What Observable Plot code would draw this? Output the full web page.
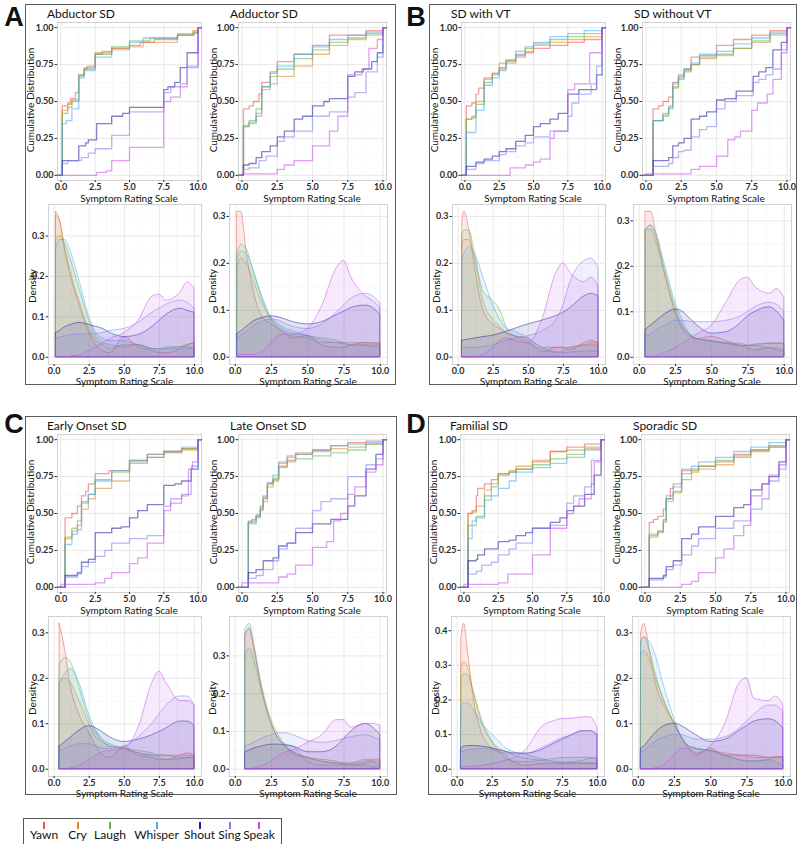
<!DOCTYPE html>
<html>
<head>
<meta charset="utf-8">
<script src="https://cdn.jsdelivr.net/npm/d3@7"></script>
<script src="https://cdn.jsdelivr.net/npm/@observablehq/plot@0.6"></script>
<style>
html,body{margin:0;padding:0;background:#fff;}
#root{position:relative;width:800px;height:844px;overflow:hidden;font-family:Lato,"Open Sans",sans-serif;color:#111;}
.box{position:absolute;border:1.5px solid #5a5a5a;box-sizing:border-box;}
.abs{position:absolute;white-space:nowrap;line-height:1;}
#root svg{position:absolute;}
</style>
</head>
<body>
<div id="root"></div>
<script>
// ---------------- DATA ----------------
const series = ["Yawn","Cry","Laugh","Whisper","Shout","Sing","Speak"];
const colors = ["#e8534f","#d98a26","#5fb54a","#4aa8f0","#1c1c9c","#7d7df0","#c94ee8"];
const panelLetters = ["A","B","C","D"];
const subplotTitles = ["Abductor SD","Adductor SD","SD with VT","SD without VT","Early Onset SD","Late Onset SD","Familial SD","Sporadic SD"];
const xTicks = [0,2.5,5,7.5,10];
const ecdfTicks = [0,0.25,0.5,0.75,1];
const xAxisTitle = "Symptom Rating Scale";
const ecdfTitle = "Cumulative Distribution";
const densTitle = "Density";

// ECDF step points [rating, cumulative fraction], series order Yawn..Speak
const ecdfAbductor = [
  [[0.1,0.47],[0.5,0.49],[0.7,0.52],[1.05,0.56],[1.3,0.68],[1.7,0.72],[1.9,0.74],[2.5,0.82],[3.0,0.84],[3.7,0.86],[5,0.88],[5.8,0.90],[6.8,0.92],[8.5,0.95],[9.7,0.97],[10,1]],
  [[0.1,0.44],[0.5,0.48],[0.8,0.50],[1.3,0.68],[1.7,0.73],[2.5,0.83],[3.7,0.86],[5,0.87],[6,0.90],[8.5,0.95],[9.6,0.98],[10,1]],
  [[0.1,0.42],[0.5,0.46],[0.8,0.51],[1.3,0.67],[1.7,0.72],[2.5,0.82],[3.7,0.87],[5,0.91],[6.5,0.93],[8.5,0.95],[9.7,0.97],[10,1]],
  [[0.1,0.35],[0.4,0.37],[0.8,0.45],[1.3,0.66],[1.7,0.71],[2.5,0.80],[3.7,0.85],[5,0.90],[6,0.93],[8.5,0.96],[10,1]],
  [[0.1,0.10],[1.3,0.20],[1.8,0.22],[2.0,0.24],[2.6,0.35],[3.7,0.40],[4.5,0.42],[5,0.46],[7.5,0.58],[7.8,0.60],[8.3,0.63],[8.7,0.73],[9.2,0.83],[10,1]],
  [[0.1,0.08],[0.5,0.10],[1.5,0.12],[2.0,0.15],[2.5,0.18],[3.7,0.27],[5,0.43],[7.5,0.56],[8.0,0.60],[8.7,0.62],[9.2,0.74],[10,1]],
  [[2.6,0.02],[3.3,0.03],[3.7,0.10],[5,0.19],[7.5,0.50],[8.0,0.53],[8.7,0.60],[9.2,0.73],[10,1]]
];
const ecdfAdductor = [
  [[0.1,0.45],[0.5,0.47],[0.8,0.50],[1.2,0.55],[1.4,0.63],[2,0.70],[2.5,0.77],[3.7,0.82],[5,0.88],[6.2,0.95],[8.8,0.98],[10,1]],
  [[0.1,0.33],[0.5,0.35],[1.0,0.40],[1.4,0.58],[2.0,0.62],[2.5,0.67],[3.7,0.74],[5,0.82],[6.2,0.88],[7.5,0.92],[8.8,0.95],[10,1]],
  [[0.1,0.33],[0.5,0.37],[1.0,0.45],[1.4,0.60],[2.0,0.67],[2.5,0.72],[3.7,0.79],[5,0.85],[6.2,0.90],[7.5,0.93],[8.8,0.96],[10,1]],
  [[0.1,0.34],[0.5,0.36],[1.0,0.42],[1.4,0.60],[2.0,0.69],[2.5,0.74],[3.7,0.82],[5,0.87],[6.2,0.92],[7.5,0.95],[8.8,0.97],[10,1]],
  [[0.1,0.07],[0.5,0.08],[1.0,0.12],[1.4,0.16],[2.0,0.20],[2.5,0.26],[3.0,0.30],[3.7,0.38],[4.3,0.40],[5,0.47],[5.8,0.50],[6.2,0.52],[7.5,0.67],[8.0,0.70],[8.6,0.72],[9.2,0.77],[9.6,0.83],[10,1]],
  [[0.1,0.04],[0.5,0.05],[1.2,0.10],[1.7,0.13],[2.5,0.23],[3.0,0.26],[3.7,0.30],[5,0.40],[6.2,0.43],[7.5,0.53],[8.0,0.56],[8.8,0.70],[9.6,0.80],[10,1]],
  [[0,0.01],[2.5,0.04],[3.0,0.07],[3.7,0.10],[5,0.20],[6.2,0.30],[6.8,0.40],[7.5,0.68],[8.5,0.72],[9.0,0.86],[9.6,0.92],[10,1]]
];
const ecdfWithVT = [
  [[0.1,0.47],[0.5,0.49],[0.8,0.55],[1.0,0.59],[1.4,0.66],[2.0,0.69],[2.5,0.73],[3.0,0.78],[3.7,0.81],[4.4,0.83],[5,0.86],[6.2,0.88],[7.5,0.90],[8.7,0.92],[10,1]],
  [[0.1,0.38],[0.5,0.40],[0.8,0.50],[1.4,0.65],[2.0,0.69],[2.5,0.72],[3.0,0.76],[3.7,0.80],[4.4,0.84],[5,0.88],[6.2,0.90],[7.5,0.92],[8.7,0.94],[10,1]],
  [[0.1,0.38],[0.5,0.39],[0.8,0.48],[1.4,0.63],[2.0,0.68],[2.5,0.76],[3.0,0.78],[3.7,0.84],[4.4,0.86],[5,0.89],[6.2,0.92],[7.5,0.94],[8.7,0.96],[10,1]],
  [[0.1,0.29],[0.8,0.44],[1.4,0.61],[2.0,0.66],[2.5,0.71],[3.0,0.77],[3.7,0.82],[4.4,0.87],[5,0.90],[6.2,0.94],[7.5,0.96],[8.7,0.98],[10,1]],
  [[0.1,0.06],[0.8,0.09],[1.4,0.11],[2.0,0.13],[2.5,0.16],[3.0,0.18],[3.7,0.23],[4.4,0.27],[5,0.33],[5.5,0.35],[6.2,0.38],[6.8,0.42],[7.5,0.55],[8.3,0.58],[9.6,0.68],[10,1]],
  [[0.1,0.04],[0.8,0.08],[1.4,0.10],[2.5,0.14],[3.0,0.16],[3.7,0.20],[4.4,0.22],[5,0.26],[6.2,0.30],[7.5,0.40],[7.8,0.49],[8.3,0.55],[9.2,0.62],[9.6,0.74],[10,1]],
  [[3.3,0.05],[4.4,0.07],[5,0.09],[5.5,0.11],[6.2,0.25],[6.5,0.30],[7.5,0.58],[8.0,0.62],[9.1,0.83],[10,1]]
];
const ecdfWithoutVT = [
  [[0.5,0.45],[0.9,0.47],[1.2,0.50],[1.6,0.53],[1.9,0.63],[2.3,0.68],[2.7,0.72],[3.2,0.80],[3.8,0.81],[5,0.88],[6.2,0.92],[7.5,0.95],[8.8,0.98],[10,1]],
  [[0.5,0.37],[1.2,0.41],[1.6,0.46],[1.9,0.59],[2.3,0.65],[2.7,0.70],[3.2,0.75],[3.8,0.79],[5,0.81],[6.2,0.86],[7.5,0.90],[8.8,0.95],[10,1]],
  [[0.5,0.37],[1.2,0.40],[1.6,0.45],[1.9,0.60],[2.3,0.66],[2.7,0.71],[3.2,0.75],[3.8,0.80],[5,0.82],[6.2,0.86],[7.5,0.91],[8.8,0.96],[10,1]],
  [[0.5,0.37],[1.2,0.42],[1.6,0.47],[1.9,0.62],[2.3,0.67],[2.7,0.72],[3.2,0.76],[3.8,0.82],[5,0.84],[6.2,0.89],[7.5,0.93],[8.8,0.97],[10,1]],
  [[0.5,0.10],[1.6,0.12],[1.9,0.20],[2.3,0.22],[2.7,0.25],[3.2,0.38],[3.8,0.40],[4.3,0.43],[5,0.51],[5.6,0.52],[6.4,0.57],[7.6,0.67],[8.0,0.70],[8.5,0.73],[9.0,0.85],[9.6,0.90],[10,1]],
  [[0.5,0.06],[1.6,0.08],[1.9,0.12],[2.3,0.16],[2.7,0.17],[3.2,0.26],[3.8,0.31],[4.3,0.33],[5,0.45],[5.6,0.50],[6.4,0.54],[7.6,0.63],[8.0,0.65],[8.5,0.68],[9.0,0.72],[9.6,0.85],[10,1]],
  [[0,0.01],[3.2,0.04],[3.8,0.06],[5,0.13],[5.8,0.24],[6.3,0.26],[6.7,0.30],[7.5,0.44],[7.9,0.49],[8.6,0.55],[9.0,0.65],[9.6,0.83],[10,1]]
];
const ecdfEarly = [
  [[0.3,0.47],[0.8,0.50],[1.2,0.55],[1.5,0.62],[1.8,0.65],[2.0,0.70],[2.5,0.77],[3.5,0.79],[5,0.86],[6.3,0.90],[7.5,0.92],[8.8,0.94],[10,1]],
  [[0.3,0.33],[0.8,0.38],[1.2,0.42],[1.5,0.53],[2.0,0.60],[2.5,0.67],[3.7,0.72],[5,0.84],[6.3,0.88],[7.5,0.91],[8.8,0.93],[10,1]],
  [[0.3,0.34],[0.8,0.40],[1.2,0.45],[1.5,0.58],[2.0,0.63],[2.5,0.73],[3.7,0.78],[5,0.85],[6.3,0.88],[7.5,0.92],[8.8,0.94],[10,1]],
  [[0.3,0.29],[0.8,0.36],[1.2,0.39],[1.5,0.57],[2.0,0.63],[2.5,0.72],[3.7,0.79],[5,0.86],[6.3,0.90],[7.5,0.92],[8.8,0.95],[10,1]],
  [[0.3,0.08],[1.2,0.10],[1.5,0.17],[2.0,0.19],[2.5,0.37],[3.7,0.40],[4.4,0.41],[5,0.47],[5.6,0.52],[6.3,0.56],[7.5,0.69],[8.3,0.70],[8.8,0.72],[9.5,0.80],[10,1]],
  [[0.3,0.07],[1.2,0.09],[1.5,0.14],[2.0,0.17],[2.5,0.21],[3.2,0.25],[3.7,0.30],[5,0.33],[6.3,0.35],[7.5,0.55],[8.0,0.60],[8.8,0.63],[9.5,0.82],[10,1]],
  [[0,0.02],[2.5,0.03],[3.2,0.06],[3.7,0.10],[5,0.16],[5.6,0.20],[6.3,0.30],[7.5,0.52],[8.0,0.57],[8.8,0.62],[9.3,0.80],[9.6,0.85],[10,1]]
];
const ecdfLate = [
  [[0.45,0.44],[0.7,0.46],[1.0,0.49],[1.3,0.53],[1.5,0.60],[1.8,0.70],[2.2,0.73],[2.6,0.82],[3.2,0.86],[3.8,0.90],[5,0.93],[6.3,0.96],[7.5,0.98],[8.8,0.99],[10,1]],
  [[0.45,0.43],[1.0,0.47],[1.3,0.52],[1.5,0.58],[1.8,0.68],[2.2,0.72],[2.6,0.85],[3.2,0.89],[3.8,0.91],[5,0.92],[6.3,0.94],[7.5,0.95],[8.8,0.97],[10,1]],
  [[0.45,0.45],[1.0,0.48],[1.3,0.55],[1.5,0.61],[1.8,0.70],[2.2,0.74],[2.6,0.81],[3.2,0.85],[3.8,0.87],[5,0.89],[6.3,0.91],[7.5,0.93],[8.8,0.97],[10,1]],
  [[0.45,0.44],[1.0,0.48],[1.3,0.54],[1.5,0.62],[1.8,0.71],[2.2,0.76],[2.6,0.84],[3.2,0.88],[3.8,0.90],[5,0.93],[6.3,0.96],[7.5,0.97],[8.8,0.98],[10,1]],
  [[0.45,0.10],[1.0,0.12],[1.5,0.18],[2.2,0.20],[2.6,0.28],[3.2,0.30],[3.8,0.37],[5,0.43],[6.3,0.46],[7.5,0.55],[8.0,0.62],[8.8,0.80],[9.5,0.90],[10,1]],
  [[0.45,0.06],[1.0,0.08],[1.5,0.12],[2.2,0.18],[2.6,0.26],[3.2,0.30],[3.8,0.40],[5,0.52],[5.6,0.58],[6.3,0.60],[7.5,0.75],[8.8,0.83],[9.5,0.87],[10,1]],
  [[0,0.03],[2.6,0.07],[3.2,0.09],[3.8,0.15],[5,0.27],[6.0,0.31],[6.5,0.45],[7.0,0.50],[7.5,0.63],[8.0,0.68],[8.8,0.78],[9.5,0.83],[10,1]]
];
const ecdfFamilial = [
  [[0.3,0.50],[0.6,0.52],[0.9,0.62],[1.0,0.67],[1.5,0.70],[2.0,0.73],[2.5,0.76],[3.3,0.78],[3.8,0.80],[5,0.85],[6.3,0.92],[7.5,0.95],[8.8,0.97],[10,1]],
  [[0.3,0.50],[0.6,0.51],[0.9,0.55],[1.5,0.66],[2.0,0.70],[2.5,0.77],[3.3,0.79],[3.8,0.82],[5,0.86],[6.3,0.92],[7.5,0.93],[8.8,0.94],[10,1]],
  [[0.3,0.42],[0.9,0.48],[1.5,0.62],[2.0,0.68],[2.5,0.77],[3.3,0.78],[3.8,0.80],[5,0.83],[6.3,0.87],[7.5,0.90],[8.8,0.95],[10,1]],
  [[0.3,0.33],[0.6,0.45],[0.9,0.47],[1.5,0.59],[2.0,0.62],[2.5,0.67],[3.3,0.72],[3.8,0.78],[5,0.81],[6.3,0.84],[7.5,0.88],[8.8,0.93],[10,1]],
  [[0.3,0.18],[0.9,0.19],[1.0,0.22],[1.5,0.26],[2.5,0.31],[3.3,0.32],[3.8,0.35],[4.5,0.37],[5,0.40],[6.3,0.44],[7.0,0.47],[7.5,0.52],[8.0,0.55],[8.8,0.63],[9.5,0.76],[10,1]],
  [[0.3,0.09],[0.9,0.11],[1.3,0.15],[2.0,0.17],[2.5,0.22],[3.3,0.26],[3.8,0.30],[5,0.40],[6.3,0.42],[7.5,0.57],[8.0,0.62],[8.8,0.68],[9.3,0.86],[10,1]],
  [[0,0.02],[2.5,0.03],[3.2,0.09],[5,0.22],[6.3,0.40],[7.5,0.50],[8.0,0.55],[8.4,0.60],[9.3,0.70],[9.5,0.85],[10,1]]
];
const ecdfSporadic = [
  [[0.3,0.44],[0.6,0.46],[0.9,0.48],[1.3,0.53],[1.5,0.60],[1.8,0.67],[2.0,0.70],[2.6,0.79],[3.3,0.80],[3.8,0.82],[5,0.85],[6.3,0.90],[7.5,0.93],[8.8,0.96],[10,1]],
  [[0.3,0.34],[0.9,0.37],[1.3,0.44],[1.5,0.58],[2.0,0.64],[2.6,0.73],[3.3,0.78],[3.8,0.80],[5,0.83],[6.3,0.88],[7.5,0.92],[8.8,0.95],[10,1]],
  [[0.3,0.36],[0.9,0.38],[1.3,0.46],[1.5,0.60],[2.0,0.65],[2.6,0.77],[3.3,0.79],[3.8,0.82],[5,0.86],[6.3,0.89],[7.5,0.93],[8.8,0.95],[10,1]],
  [[0.3,0.35],[0.9,0.38],[1.3,0.45],[1.5,0.62],[2.0,0.68],[2.6,0.80],[3.3,0.82],[3.8,0.85],[5,0.88],[6.3,0.92],[7.5,0.95],[8.8,0.98],[10,1]],
  [[0.3,0.06],[1.3,0.08],[1.5,0.14],[2.0,0.18],[2.6,0.33],[3.3,0.36],[3.8,0.41],[5,0.48],[6.3,0.54],[7.0,0.56],[7.5,0.66],[8.3,0.70],[8.8,0.75],[9.5,0.85],[10,1]],
  [[0.3,0.05],[1.3,0.07],[1.5,0.12],[2.0,0.15],[2.6,0.22],[3.3,0.28],[3.8,0.33],[5,0.40],[6.3,0.45],[7.5,0.53],[8.3,0.60],[8.8,0.72],[9.5,0.80],[10,1]],
  [[2.6,0.02],[3.3,0.04],[3.8,0.10],[5,0.20],[5.6,0.26],[6.3,0.35],[7.0,0.42],[7.5,0.62],[8.3,0.70],[8.8,0.76],[9.5,0.83],[10,1]]
];

// Density curves: rating grid and density values per series (Yawn..Speak)
const gridAbductor = [0.15,0.4,0.8,1.2,1.8,2.5,3,3.5,4,5,6,7,7.5,8,9,9.5,10];
const densAbductor = [
  [0.36,0.34,0.26,0.20,0.13,0.06,0.03,0.015,0.01,0.05,0.025,0.015,0.01,0.01,0.02,0.03,0.035],
  [0.35,0.34,0.27,0.21,0.14,0.07,0.04,0.03,0.02,0.03,0.03,0.02,0.015,0.02,0.025,0.03,0.035],
  [0.29,0.30,0.28,0.24,0.17,0.09,0.05,0.035,0.03,0.025,0.03,0.02,0.02,0.025,0.025,0.025,0.02],
  [0.27,0.29,0.29,0.26,0.19,0.10,0.06,0.045,0.04,0.04,0.03,0.02,0.02,0.02,0.02,0.02,0.02],
  [0.06,0.065,0.075,0.08,0.085,0.08,0.075,0.07,0.06,0.05,0.055,0.075,0.09,0.105,0.12,0.115,0.11],
  [0.045,0.048,0.052,0.055,0.056,0.057,0.058,0.06,0.065,0.07,0.085,0.11,0.12,0.13,0.14,0.135,0.12],
  [0,0,0,0.002,0.005,0.015,0.025,0.035,0.045,0.06,0.09,0.15,0.155,0.14,0.16,0.185,0.17]
];
const gridAdductor = [0.15,0.4,0.8,1.2,1.8,2.5,3,3.5,4,5,6,7,7.5,8,9,9.5,10];
const densAdductor = [
  [0.31,0.31,0.22,0.15,0.09,0.07,0.06,0.05,0.04,0.045,0.025,0.02,0.02,0.025,0.03,0.03,0.03],
  [0.19,0.21,0.20,0.17,0.12,0.08,0.06,0.05,0.045,0.04,0.03,0.03,0.03,0.03,0.03,0.028,0.027],
  [0.22,0.24,0.23,0.19,0.13,0.08,0.065,0.055,0.05,0.045,0.04,0.035,0.03,0.025,0.025,0.025,0.025],
  [0.21,0.225,0.22,0.19,0.135,0.085,0.07,0.06,0.055,0.045,0.035,0.03,0.028,0.025,0.025,0.022,0.02],
  [0.05,0.055,0.065,0.075,0.083,0.087,0.085,0.08,0.075,0.07,0.075,0.09,0.097,0.105,0.11,0.105,0.09],
  [0.04,0.045,0.055,0.065,0.075,0.08,0.078,0.07,0.065,0.06,0.07,0.095,0.11,0.125,0.135,0.13,0.115],
  [0.005,0.005,0.005,0.005,0.01,0.03,0.045,0.048,0.048,0.06,0.11,0.19,0.205,0.17,0.13,0.12,0.105]
];
const gridWithVT = [0.3,0.45,0.8,1.2,1.8,2.5,3,3.5,4,5,6,7,7.5,8,9,9.5,10];
const densWithVT = [
  [0.29,0.31,0.27,0.19,0.10,0.07,0.06,0.05,0.045,0.035,0.01,0.02,0.02,0.015,0.03,0.035,0.03],
  [0.24,0.25,0.25,0.21,0.12,0.08,0.065,0.05,0.045,0.04,0.02,0.02,0.02,0.02,0.025,0.03,0.03],
  [0.26,0.27,0.27,0.22,0.14,0.12,0.10,0.06,0.045,0.03,0.015,0.01,0.012,0.02,0.025,0.025,0.025],
  [0.21,0.22,0.235,0.22,0.17,0.11,0.08,0.06,0.055,0.04,0.02,0.01,0.008,0.01,0.012,0.012,0.012],
  [0.035,0.036,0.038,0.04,0.043,0.046,0.05,0.055,0.06,0.07,0.078,0.088,0.095,0.105,0.13,0.135,0.13],
  [0.02,0.02,0.02,0.02,0.022,0.025,0.03,0.035,0.04,0.045,0.055,0.08,0.11,0.16,0.205,0.21,0.19],
  [0,0,0,0,0.005,0.02,0.035,0.04,0.035,0.03,0.08,0.18,0.20,0.18,0.16,0.17,0.15]
];
const gridWithoutVT = [0.45,0.8,1.2,1.8,2.5,3,3.5,4,5,6,7,7.5,8,9,9.5,10];
const densWithoutVT = [
  [0.32,0.32,0.27,0.18,0.10,0.06,0.045,0.04,0.045,0.035,0.025,0.02,0.015,0.02,0.015,0.012],
  [0.28,0.28,0.25,0.18,0.10,0.065,0.05,0.04,0.035,0.03,0.03,0.025,0.025,0.03,0.03,0.03],
  [0.28,0.29,0.26,0.19,0.11,0.07,0.05,0.04,0.035,0.03,0.025,0.025,0.028,0.03,0.03,0.03],
  [0.28,0.29,0.27,0.20,0.12,0.08,0.05,0.04,0.035,0.03,0.025,0.025,0.025,0.02,0.02,0.015],
  [0.06,0.07,0.08,0.095,0.105,0.10,0.085,0.07,0.052,0.055,0.075,0.09,0.10,0.11,0.10,0.08],
  [0.045,0.05,0.06,0.07,0.08,0.08,0.078,0.077,0.077,0.08,0.09,0.10,0.11,0.12,0.115,0.10],
  [0,0,0.002,0.01,0.02,0.03,0.04,0.05,0.07,0.12,0.17,0.175,0.155,0.14,0.15,0.13]
];
const gridEarly = [0.4,0.8,1.2,1.8,2.5,3,3.5,4,5,6,7,7.5,8,9,9.5,10];
const densEarly = [
  [0.32,0.26,0.18,0.12,0.08,0.05,0.03,0.025,0.05,0.03,0.025,0.02,0.02,0.03,0.035,0.03],
  [0.19,0.20,0.19,0.15,0.10,0.07,0.06,0.05,0.045,0.035,0.03,0.03,0.03,0.03,0.03,0.03],
  [0.23,0.245,0.235,0.18,0.11,0.08,0.06,0.05,0.045,0.04,0.035,0.03,0.03,0.025,0.025,0.025],
  [0.19,0.21,0.22,0.19,0.12,0.085,0.065,0.055,0.045,0.035,0.03,0.025,0.02,0.022,0.025,0.025],
  [0.05,0.06,0.07,0.085,0.095,0.09,0.08,0.07,0.06,0.065,0.075,0.082,0.09,0.105,0.105,0.095],
  [0.04,0.045,0.05,0.055,0.055,0.05,0.045,0.045,0.05,0.07,0.10,0.12,0.14,0.16,0.16,0.14],
  [0,0,0.002,0.008,0.02,0.03,0.038,0.04,0.045,0.09,0.19,0.215,0.19,0.15,0.15,0.14]
];
const gridLate = [0.7,1.0,1.3,1.8,2.5,3,3.5,4,5,6,7,7.5,8,9,9.5,10];
const densLate = [
  [0.36,0.37,0.32,0.22,0.12,0.08,0.06,0.04,0.03,0.02,0.015,0.012,0.01,0.015,0.02,0.02],
  [0.35,0.375,0.33,0.23,0.13,0.09,0.06,0.045,0.03,0.02,0.015,0.015,0.015,0.02,0.025,0.025],
  [0.30,0.32,0.29,0.21,0.12,0.08,0.06,0.045,0.03,0.025,0.02,0.015,0.015,0.025,0.02,0.01],
  [0.37,0.385,0.33,0.22,0.12,0.08,0.065,0.06,0.02,0.01,0.01,0.01,0.01,0.01,0.005,0.005],
  [0.045,0.05,0.055,0.06,0.065,0.065,0.063,0.06,0.045,0.045,0.06,0.08,0.10,0.12,0.11,0.09],
  [0.06,0.065,0.07,0.08,0.09,0.095,0.095,0.09,0.075,0.07,0.075,0.08,0.085,0.09,0.085,0.075],
  [0,0,0.002,0.008,0.02,0.035,0.045,0.05,0.07,0.09,0.13,0.13,0.11,0.12,0.12,0.115]
];
const gridFamilial = [0.3,0.5,0.8,1.2,1.8,2.5,3,3.5,4,5,6,7,7.5,8,9,9.5,10];
const densFamilial = [
  [0.38,0.42,0.33,0.20,0.10,0.06,0.05,0.04,0.02,0.01,0.015,0.015,0.015,0.015,0.015,0.015,0.015],
  [0.29,0.31,0.29,0.22,0.13,0.08,0.06,0.05,0.04,0.03,0.025,0.02,0.02,0.02,0.018,0.017,0.017],
  [0.26,0.275,0.27,0.22,0.14,0.08,0.05,0.03,0.022,0.02,0.025,0.03,0.032,0.033,0.033,0.033,0.03],
  [0.18,0.19,0.19,0.17,0.13,0.10,0.08,0.06,0.05,0.04,0.03,0.02,0.017,0.018,0.025,0.03,0.03],
  [0.06,0.065,0.067,0.067,0.065,0.06,0.055,0.05,0.046,0.045,0.055,0.075,0.085,0.095,0.11,0.11,0.10],
  [0.05,0.052,0.055,0.057,0.058,0.055,0.05,0.045,0.043,0.045,0.06,0.08,0.09,0.095,0.11,0.11,0.095],
  [0.005,0.005,0.006,0.007,0.01,0.015,0.02,0.025,0.03,0.06,0.12,0.14,0.145,0.145,0.15,0.15,0.12]
];
const gridSporadic = [0.2,0.4,0.8,1.2,1.8,2.5,3,3.5,4,5,6,7,7.5,8,9,9.5,10];
const densSporadic = [
  [0.30,0.32,0.26,0.19,0.14,0.10,0.07,0.045,0.03,0.045,0.03,0.03,0.03,0.03,0.025,0.025,0.027],
  [0.25,0.26,0.24,0.20,0.15,0.10,0.07,0.05,0.045,0.04,0.035,0.03,0.028,0.025,0.025,0.027,0.027],
  [0.28,0.29,0.26,0.21,0.15,0.10,0.07,0.05,0.045,0.04,0.03,0.02,0.017,0.017,0.02,0.025,0.025],
  [0.28,0.29,0.28,0.25,0.18,0.11,0.07,0.05,0.045,0.04,0.03,0.02,0.017,0.017,0.02,0.015,0.008],
  [0.045,0.05,0.065,0.08,0.095,0.10,0.095,0.085,0.075,0.06,0.065,0.085,0.095,0.105,0.11,0.105,0.09],
  [0.035,0.04,0.05,0.06,0.07,0.075,0.075,0.07,0.065,0.065,0.07,0.09,0.105,0.12,0.14,0.14,0.125],
  [0,0,0,0.002,0.01,0.03,0.045,0.045,0.035,0.05,0.10,0.19,0.20,0.155,0.15,0.16,0.14]
];

// ---------------- LAYOUT ----------------
const panelBoxes = [[25,4,371,381],[429,4,368,381],[25,416,372,379],[428,416,369,379]];
const letterPos = [[14,17],[416,17],[14,424],[416,424]];
const colEcdf = [[32,176],[213,361]];
const colDens = [[23,176],[204,362]];
const ecdfTB = [18,176];
const densTB = [200,360];
const titleX = [22,205];
const ecdfXDomain = [-0.25,10.25];
const ecdfYDomain = [-0.035,1.035];
const densXDomain = [-0.4,10.5];
const legendBox = [23,818,259,27];
const legendCenters = [44,77.5,110,156.5,199.5,229.5,259];

const subplots = [
  {ecdf: ecdfAbductor, grid: gridAbductor, dens: densAbductor},
  {ecdf: ecdfAdductor, grid: gridAdductor, dens: densAdductor},
  {ecdf: ecdfWithVT, grid: gridWithVT, dens: densWithVT},
  {ecdf: ecdfWithoutVT, grid: gridWithoutVT, dens: densWithoutVT},
  {ecdf: ecdfEarly, grid: gridEarly, dens: densEarly},
  {ecdf: ecdfLate, grid: gridLate, dens: densLate},
  {ecdf: ecdfFamilial, grid: gridFamilial, dens: densFamilial},
  {ecdf: ecdfSporadic, grid: gridSporadic, dens: densSporadic}
];

// ---------------- RENDER ----------------
const root = document.getElementById("root");
const plotStyle = {fontFamily: "Lato, 'Open Sans', sans-serif", fontSize: "9px", fontWeight: "bold", color: "#2b2b2b", background: "transparent"};
const gridMajor = {stroke: "#e6e6e6", strokeOpacity: 1, strokeWidth: 0.9};
const gridMinor = {stroke: "#f3f3f3", strokeOpacity: 1, strokeWidth: 0.6};
const xMinor = [1.25,3.75,6.25,8.75];

function addText(str, x, y, o = {}) {
  const d = document.createElement("div");
  d.className = "abs";
  d.textContent = str;
  d.style.left = x + "px";
  d.style.top = y + "px";
  d.style.fontSize = (o.size || 10) + "px";
  d.style.fontWeight = o.weight || "normal";
  if (o.family) d.style.fontFamily = o.family;
  const tx = o.anchor === "start" ? "0" : "-50%";
  d.style.transform = `translate(${tx},-50%)` + (o.rotate ? " rotate(-90deg)" : "");
  root.appendChild(d);
  return d;
}

function place(svg, left, top) {
  svg.style.left = left + "px";
  svg.style.top = top + "px";
  root.appendChild(svg);
}

function drawEcdf(data, ox, oy, col) {
  const [pl, pr] = colEcdf[col];
  const [pt, pb] = ecdfTB;
  const m = {l: 30, r: 8, t: 4, b: 16};
  const rows = [];
  data.forEach((pts, i) => {
    rows.push({x: ecdfXDomain[0], y: 0, s: series[i]});
    for (const [x, y] of pts) rows.push({x, y, s: series[i]});
    rows.push({x: ecdfXDomain[1], y: 1, s: series[i]});
  });
  const svg = Plot.plot({
    width: m.l + (pr - pl) + m.r, height: m.t + (pb - pt) + m.b,
    marginLeft: m.l, marginRight: m.r, marginTop: m.t, marginBottom: m.b,
    style: plotStyle,
    x: {domain: ecdfXDomain},
    y: {domain: ecdfYDomain},
    color: {domain: series, range: colors},
    marks: [
      Plot.gridX(xMinor, gridMinor),
      Plot.gridY([0.125,0.375,0.625,0.875], gridMinor),
      Plot.gridX(xTicks, gridMajor),
      Plot.gridY(ecdfTicks, gridMajor),
      Plot.frame({stroke: "#d2d2d2"}),
      Plot.axisX(xTicks, {tickFormat: ".1f", label: null, tickSize: 2, tickPadding: 1}),
      Plot.axisY(ecdfTicks, {tickFormat: ".2f", label: null, tickSize: 2.5, tickPadding: 1.5}),
      Plot.line(rows, {x: "x", y: "y", z: "s", stroke: "s", curve: "step-after", strokeWidth: 1.3, strokeOpacity: 0.55})
    ]
  });
  place(svg, ox + pl - m.l, oy + pt - m.t);
}

function drawDens(data, grid, ox, oy, col) {
  const [pl, pr] = colDens[col];
  const [pt, pb] = densTB;
  const m = {l: 24, r: 8, t: 4, b: 16};
  const rows = [];
  data.forEach((vals, i) => vals.forEach((v, j) => rows.push({x: grid[j], lo: 0, y: v, s: series[i]})));
  const ymax = d3.max(rows, d => d.y);
  const yTicks = d3.range(0, ymax + 1e-9, 0.1);
  const yMinor = d3.range(0.05, ymax * 1.05, 0.1);
  const svg = Plot.plot({
    width: m.l + (pr - pl) + m.r, height: m.t + (pb - pt) + m.b,
    marginLeft: m.l, marginRight: m.r, marginTop: m.t, marginBottom: m.b,
    style: plotStyle,
    x: {domain: densXDomain},
    y: {domain: [-0.05 * ymax, 1.05 * ymax]},
    color: {domain: series, range: colors},
    marks: [
      Plot.gridX(xMinor, gridMinor),
      Plot.gridY(yMinor, gridMinor),
      Plot.gridX(xTicks, gridMajor),
      Plot.gridY(yTicks, gridMajor),
      Plot.frame({stroke: "#d2d2d2"}),
      Plot.axisX(xTicks, {tickFormat: ".1f", label: null, tickSize: 2, tickPadding: 1}),
      Plot.axisY(yTicks, {tickFormat: ".1f", label: null, tickSize: 2.5, tickPadding: 1.5}),
      Plot.areaY(rows, {x: "x", y1: "lo", y2: "y", z: "s", fill: "s", stroke: "s", fillOpacity: 0.12, strokeOpacity: 0.5, strokeWidth: 1, curve: "monotone-x"})
    ]
  });
  place(svg, ox + pl - m.l, oy + pt - m.t);
}

panelBoxes.forEach(([x, y, w, h], p) => {
  const b = document.createElement("div");
  b.className = "box";
  b.style.left = x + "px"; b.style.top = y + "px";
  b.style.width = w + "px"; b.style.height = h + "px";
  root.appendChild(b);
  addText(panelLetters[p], letterPos[p][0], letterPos[p][1], {size: 27, weight: "bold", family: "'Liberation Sans', Arial, sans-serif"});
  for (let col = 0; col < 2; col++) {
    const k = p * 2 + col;
    const sp = subplots[k];
    addText(subplotTitles[k], x + titleX[col], y + 10, {size: 12, anchor: "start"});
    drawEcdf(sp.ecdf, x, y, col);
    drawDens(sp.dens, sp.grid, x, y, col);
    const ec = colEcdf[col], dc = colDens[col];
    addText(xAxisTitle, x + (ec[0] + ec[1]) / 2, y + 194, {size: 10});
    addText(xAxisTitle, x + (dc[0] + dc[1]) / 2, y + 377, {size: 10});
    addText(ecdfTitle, x + (col ? 188 : 5), y + 96, {size: 10, rotate: true});
    addText(densTitle, x + (col ? 187 : 7), y + 282, {size: 10, rotate: true});
  }
});

// legend
const lg = document.createElement("div");
lg.style.cssText = `position:absolute;left:${legendBox[0]}px;top:${legendBox[1]}px;width:${legendBox[2]}px;height:${legendBox[3]}px;border:1px solid #555;box-sizing:border-box;`;
root.appendChild(lg);
series.forEach((s, i) => {
  const t = document.createElement("div");
  t.style.cssText = `position:absolute;left:${legendCenters[i] - 1}px;top:822px;width:2px;height:7px;background:${colors[i]};`;
  root.appendChild(t);
  addText(s, legendCenters[i], 835, {size: 12});
});
</script>
</body>
</html>
